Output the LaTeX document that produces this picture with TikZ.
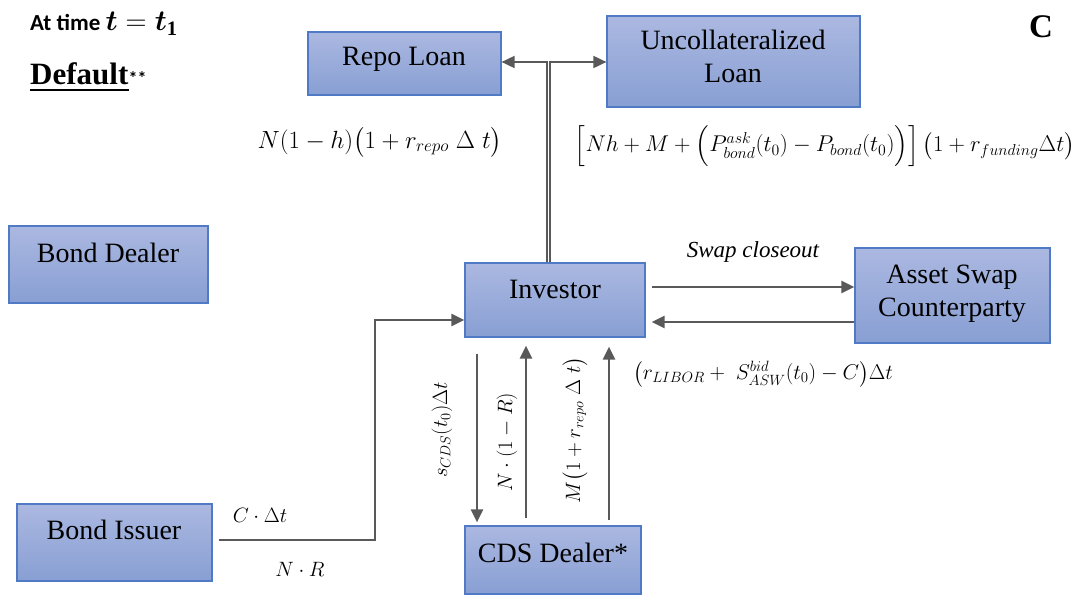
\documentclass[tikz,border=0pt]{standalone}
\usepackage{amsmath}
\usepackage{graphicx}
\usepackage{fontspec}
\setmainfont{Liberation Serif}
\newfontfamily\calib{Carlito}
\usetikzlibrary{arrows.meta}

\definecolor{boxtop}{RGB}{171,184,225}
\definecolor{boxbot}{RGB}{136,159,211}
\definecolor{boxline}{RGB}{80,122,198}
\definecolor{flowgray}{RGB}{89,89,89}

\tikzset{
  box/.style={rectangle, draw=boxline, line width=1.2pt, top color=boxtop,
    bottom color=boxbot, inner sep=0pt},
  boxtext/.style={anchor=base, inner sep=0pt, align=center,
    font=\fontsize{28}{33}\selectfont},
  flow/.style={draw=flowgray, line width=2.4pt,
    -{Triangle[length=13pt,width=12pt]}},
  thinflow/.style={draw=flowgray, line width=1.8pt,
    -{Triangle[length=13pt,width=12pt]}},
  eq/.style={inner sep=0pt, font=\fontsize{22}{26}\selectfont},
}

\begin{document}
\begin{tikzpicture}[x=1pt,y=-1pt]
\useasboundingbox (0,0) rectangle (1078,596);

% --- boxes ---
\node[box, minimum width=193pt, minimum height=63pt] (repo) at (404.5,63.5) {};
\node[box, minimum width=253pt, minimum height=91pt] (unc)  at (733.5,61.5) {};
\node[box, minimum width=180pt, minimum height=74pt] (inv)  at (555,300) {};
\node[box, minimum width=195pt, minimum height=95pt] (asc)  at (952.5,295.5) {};
\node[box, minimum width=199pt, minimum height=77pt] (bd)   at (108.5,264.5) {};
\node[box, minimum width=195pt, minimum height=77pt] (bi)   at (114.5,542.5) {};
\node[box, minimum width=176pt, minimum height=68pt] (cds)  at (553,560) {};

% --- box captions ---
\node[boxtext] (repo-t) at (404,66) {Repo Loan};
\node[boxtext] (unc-t1) at (733,50) {Uncollateralized};
\node[boxtext] (unc-t2) at (733,83) {Loan};
\node[boxtext] (inv-t)  at (555,298) {Investor};
\node[boxtext] (asc-t1) at (952,283) {Asset Swap};
\node[boxtext] (asc-t2) at (952,316) {Counterparty};
\node[boxtext] (bd-t)   at (108,262) {Bond Dealer};
\node[boxtext] (bi-t)   at (114,539) {Bond Issuer};
\node[boxtext] (cds-t)  at (553,562) {CDS Dealer*};

% --- headings ---
\node[anchor=base west, inner sep=0pt] (hdr) at (30,31)
  {\calib\bfseries\fontsize{23}{27}\selectfont At time
   \scalebox{1.17}{\fontsize{25}{28}\selectfont$\boldsymbol{t} = \boldsymbol{t}_{\mathbf{1}}$}};
\node[anchor=base west, inner sep=0pt] (dflt) at (30,85)
  {\bfseries\fontsize{31}{35}\selectfont Default};
\node[anchor=base west, inner sep=0pt] (stars) at (dflt.base east)
  {\calib\bfseries\fontsize{18}{20}\selectfont **};
\draw[line width=2.2pt] ([yshift=-5pt]dflt.base west) -- ([yshift=-5pt]dflt.base east);
\node[anchor=base, inner sep=0pt] (panel) at (1041,38)
  {\bfseries\fontsize{33}{36}\selectfont C};

% --- funding legs from the investor ---
\coordinate (jl) at (546.7,62);
\coordinate (jr) at (550.3,62);
\draw[thinflow] (jl |- inv.north) -- (jl) -- (jl -| repo.east);
\draw[thinflow] (jr |- inv.north) -- (jr) -- (jr -| unc.west);

\node[eq, font=\fontsize{24}{28}\selectfont] (repo-eq) at (380,142)
  {$N(1-h)\big(1+r_{repo}\;\Delta\;t\big)$};
\node[eq, anchor=east] (unc-eq) at (1075,146)
  {\resizebox{500pt}{!}{$\Big[Nh+M+\Big(P^{ask}_{bond}(t_0)-P_{bond}(t_0)\Big)\Big]\,\big(1+r_{funding}\Delta t\big)$}};

% --- asset swap legs ---
\draw[flow] ([xshift=6pt,yshift=13pt]inv.east) -- ([yshift=8.5pt]asc.west);
\draw[flow] ([yshift=-26.5pt]asc.west) -- ([xshift=6pt,yshift=-22pt]inv.east);
\node[anchor=base, inner sep=0pt, font=\itshape\fontsize{23}{27}\selectfont]
  (swap) at (753,257) {Swap closeout};
\node[eq] (asw-eq) at (763,374)
  {\resizebox{260pt}{!}{$\big(r_{LIBOR}+\;S^{bid}_{ASW}(t_0)-C\big)\Delta t$}};

% --- CDS legs ---
\draw[flow] ([xshift=-78pt,yshift=-16pt]inv.south) -- ([xshift=-76pt,yshift=3pt]cds.north);
\draw[flow] ([xshift=-27pt,yshift=7pt]cds.north) -- ([xshift=-29pt,yshift=-8pt]inv.south);
\draw[flow] ([xshift=56pt,yshift=5pt]cds.north) -- ([xshift=54pt,yshift=-9pt]inv.south);
\node[eq, rotate=90] (cds-eq1) at (442,430) {$s_{CDS}(t_0)\Delta t$};
\node[eq, rotate=90] (cds-eq2) at (507,442) {$N\cdot(1-R)$};
\node[eq, rotate=90] (cds-eq3) at (575,430) {$M\big(1+r_{repo}\;\Delta\;t\big)$};

% --- bond issuer leg ---
\coordinate (bend) at (375,320);
\draw[flow] ([xshift=6pt,yshift=2.5pt]bi.east) -| (bend) -- ([yshift=-20pt]inv.west);
\node[eq] (coup) at (260,515) {$C\cdot\Delta t$};
\node[eq] (rec)  at (300,569) {$N\cdot R$};
\end{tikzpicture}
\end{document}
